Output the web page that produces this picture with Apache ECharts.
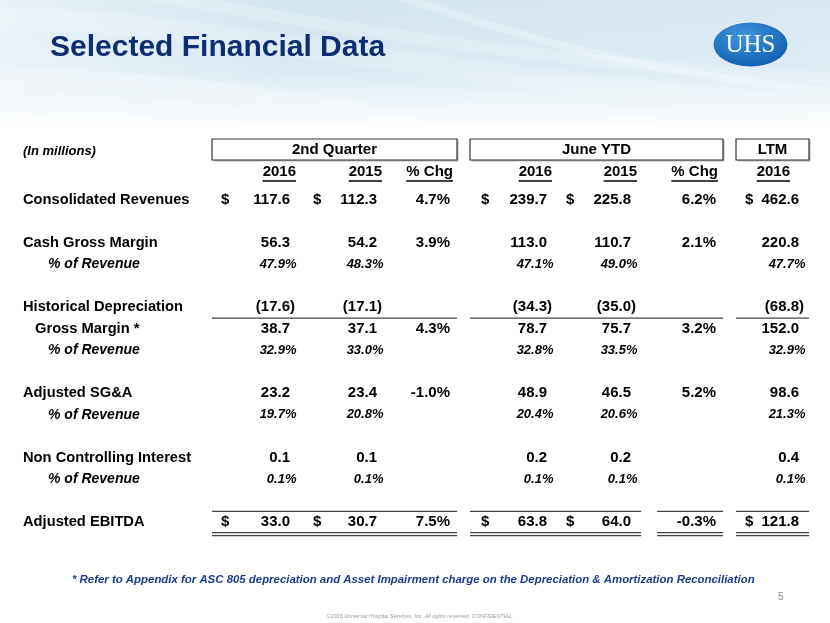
<!DOCTYPE html>
<html><head><meta charset="utf-8">
<script src="https://cdn.jsdelivr.net/npm/echarts@6/dist/echarts.min.js"></script>
<style>html,body{margin:0;padding:0;background:#fff}#c{width:830px;height:623px}</style>
</head><body><div id="c"></div>
<script>
// ---------- DATA ----------
const titleText = "Selected Financial Data";
const unitNote = "(In millions)";
const rowLabels = ["Consolidated Revenues","","Cash Gross Margin","% of Revenue","","Historical Depreciation","Gross Margin *","% of Revenue","","Adjusted SG&A","% of Revenue","","Non Controlling Interest","% of Revenue","","Adjusted EBITDA"];
const groupHeaders = ["2nd Quarter","June YTD","LTM"];
const columnHeaders = ["2016","2015","% Chg","2016","2015","% Chg","2016"];
const q2_2016  = [117.6,null,56.3,47.9,null,-17.6,38.7,32.9,null,23.2,19.7,null,0.1,0.1,null,33.0];
const q2_2015  = [112.3,null,54.2,48.3,null,-17.1,37.1,33.0,null,23.4,20.8,null,0.1,0.1,null,30.7];
const q2_chg   = [4.7,null,3.9,null,null,null,4.3,null,null,-1.0,null,null,null,null,null,7.5];
const ytd_2016 = [239.7,null,113.0,47.1,null,-34.3,78.7,32.8,null,48.9,20.4,null,0.2,0.1,null,63.8];
const ytd_2015 = [225.8,null,110.7,49.0,null,-35.0,75.7,33.5,null,46.5,20.6,null,0.2,0.1,null,64.0];
const ytd_chg  = [6.2,null,2.1,null,null,null,3.2,null,null,5.2,null,null,null,null,null,-0.3];
const ltm_2016 = [462.6,null,220.8,47.7,null,-68.8,152.0,32.9,null,98.6,21.3,null,0.4,0.1,null,121.8];
const dollarRows = ["Consolidated Revenues","Adjusted EBITDA"];
const footnote = "* Refer to Appendix for ASC 805 depreciation and Asset Impairment charge on the Depreciation & Amortization Reconciliation";
const copyright = "\u00a92016 Universal Hospital Services, Inc. All rights reserved. CONFIDENTIAL.";
const pageNumber = "5";
const logoText = "UHS";

// ---------- LAYOUT / STYLE ----------
const columns = [q2_2016,q2_2015,q2_chg,ytd_2016,ytd_2015,ytd_chg,ltm_2016];
const chgCols = [2,5];
const colRight = [290,377,450,547,631,716,799];
const colHeadRight = [296,382,453,552,637,718,790];
const dollarLeft = [221,313,null,481,566,null,745];
const groupBox = [[212,457],[470,723],[736,809]];
const FF = "'Liberation Sans', Arial, sans-serif";
const ROW0 = 200, BAND = 21.47;
const rowY = r => ROW0 + BAND * r;
const NAVY = '#0f2d72';

const mc = document.createElement('canvas').getContext('2d');
function textW(t, font){ mc.font = font; return mc.measureText(t).width; }

function rowType(r){
  const l = rowLabels[r];
  if (l === "% of Revenue") return 'pct';
  if (l === "Gross Margin *") return 'sub';
  return 'main';
}

const cellData = [];
columns.forEach((arr,c)=>arr.forEach((v,r)=>{ if(v!==null) cellData.push([c,r,v]); }));
const labelData = rowLabels.map((l,r)=>[r]).filter(d=>rowLabels[d[0]]!=="");
const dollarData = [];
rowLabels.forEach((l,r)=>{ if(dollarRows.includes(l)) dollarLeft.forEach((x,c)=>{ if(x!==null) dollarData.push([c,r]); }); });

function renderCell(params, api){
  const c = api.value(0), r = api.value(1), v = api.value(2);
  const t = rowType(r);
  let text, dx = 0, style = 'normal', size = 15, weight = 'bold';
  if (t === 'pct'){ text = v.toFixed(1)+'%'; dx = 6.5; style='italic'; size = 13; }
  else if (chgCols.includes(c)){ text = v.toFixed(1)+'%'; }
  else { text = v<0 ? '('+Math.abs(v).toFixed(1)+')' : v.toFixed(1); dx = v<0 ? 5 : 0; }
  const p = api.coord([colRight[c], r]);
  return {type:'text', style:{x:p[0]+dx, y:p[1], text, fontFamily:FF, fontSize:size, fontWeight:weight, fontStyle:style, fill:'#000', align:'right', verticalAlign:'middle'}};
}
function renderLabel(params, api){
  const r = api.value(0);
  const t = rowType(r);
  const x = t==='pct' ? 48 : (t==='sub' ? 35 : 23);
  const p = api.coord([x, r]);
  return {type:'text', style:{x:p[0], y:p[1], text:rowLabels[r], fontFamily:FF, fontSize:t==='pct'?14:14.7, fontWeight:'bold', fontStyle:t==='pct'?'italic':'normal', fill:'#000', align:'left', verticalAlign:'middle'}};
}
function renderDollar(params, api){
  const c = api.value(0), r = api.value(1);
  const p = api.coord([dollarLeft[c], r]);
  return {type:'text', style:{x:p[0], y:p[1], text:'$', fontFamily:FF, fontSize:15, fontWeight:'bold', fill:'#000', align:'left', verticalAlign:'middle'}};
}

const graphics = [];
// background
graphics.push({type:'rect', z:-10, shape:{x:0,y:0,width:830,height:623}, style:{fill:'#ffffff'}});
graphics.push({type:'rect', z:-9, shape:{x:0,y:0,width:830,height:130}, style:{fill:new echarts.graphic.LinearGradient(0,0,0,1,[{offset:0,color:'#d3e5f0'},{offset:0.55,color:'#d9e9f3'},{offset:1,color:'#ffffff'}])}});
graphics.push({type:'rect', z:-8, shape:{x:0,y:0,width:830,height:130}, style:{fill:new echarts.graphic.LinearGradient(0,0,1,0,[{offset:0,color:'rgba(255,255,255,0.45)'},{offset:0.35,color:'rgba(255,255,255,0)'},{offset:1,color:'rgba(255,255,255,0.12)'}])}});
[[-20,20,150,10,350,70,860,110,22,0.18],[120,-10,300,20,560,70,880,80,12,0.2],[380,-10,500,30,650,80,880,95,8,0.25],[-20,80,120,70,260,95,420,120,16,0.25]].forEach(s=>{
  graphics.push({type:'bezierCurve', z:-7, shape:{x1:s[0],y1:s[1],cpx1:s[2],cpy1:s[3],cpx2:s[4],cpy2:s[5],x2:s[6],y2:s[7]}, style:{fill:'none', stroke:'rgba(255,255,255,'+s[9]+')', lineWidth:s[8]}});
});
// title
graphics.push({type:'text', z:5, style:{x:50, y:48, text:titleText, fontFamily:FF, fontSize:30, fontWeight:'bold', fill:NAVY, verticalAlign:'middle'}});
// logo
graphics.push({type:'circle', z:5, x:750.5, y:44.5, scaleY:23.5/38.5, shape:{cx:0,cy:0,r:38.5}, style:{fill:'#e3ecf4'}});
graphics.push({type:'circle', z:6, x:750.5, y:44.5, scaleY:22/37, shape:{cx:0,cy:0,r:37}, style:{fill:new echarts.graphic.RadialGradient(0.4,0.3,0.8,[{offset:0,color:'#3f95de'},{offset:1,color:'#0d5aae'}])}});
graphics.push({type:'text', z:7, style:{x:750.5, y:45.5, text:logoText, fontFamily:"'Liberation Serif', 'DejaVu Serif', serif", fontSize:25, fill:'#ffffff', align:'center', verticalAlign:'middle'}});
// unit note
graphics.push({type:'text', z:5, style:{x:23, y:151, text:unitNote, fontFamily:FF, fontSize:13, fontWeight:'bold', fontStyle:'italic', fill:'#000', verticalAlign:'middle'}});
// group header boxes
groupBox.forEach((b,i)=>{
  graphics.push({type:'rect', z:4, shape:{x:b[0]+1.5,y:140.5,width:b[1]-b[0],height:21}, style:{fill:'#b5b5b5'}});
  graphics.push({type:'rect', z:5, shape:{x:b[0],y:139,width:b[1]-b[0],height:21}, style:{fill:'#ffffff', stroke:'#333', lineWidth:1.2}});
  graphics.push({type:'text', z:6, style:{x:(b[0]+b[1])/2, y:150, text:groupHeaders[i], fontFamily:FF, fontSize:15, fontWeight:'bold', fill:'#000', align:'center', verticalAlign:'middle'}});
});
// column headers with underline
columnHeaders.forEach((h,c)=>{
  const f = 'bold 15px '+FF;
  const w = textW(h,f);
  graphics.push({type:'text', z:5, style:{x:colHeadRight[c], y:172, text:h, fontFamily:FF, fontSize:15, fontWeight:'bold', fill:'#000', align:'right', verticalAlign:'middle'}});
  graphics.push({type:'line', z:5, shape:{x1:colHeadRight[c]-w, y1:181, x2:colHeadRight[c], y2:181}, style:{stroke:'#000', lineWidth:1.5}});
});
// rules
function hline(x1,x2,y,w){ graphics.push({type:'line', z:5, shape:{x1,y1:y,x2,y2:y}, style:{stroke:'#444', lineWidth:w||1.3}}); }
const subRuleRow = rowLabels.indexOf("Historical Depreciation") + 0.5;
groupBox.forEach(b=>hline(b[0], b[1], rowY(subRuleRow)));
const totalRow = rowLabels.indexOf("Adjusted EBITDA");
const totalSegs = [[212,457],[470,641],[657,723],[736,809]];
totalSegs.forEach(s=>{ hline(s[0],s[1],rowY(totalRow-0.5)); hline(s[0],s[1],rowY(totalRow)+10.5,1.2); hline(s[0],s[1],rowY(totalRow)+13.5,1.2); });
// footnote
const fnBase = 11;
const fnW = textW(footnote, 'italic bold '+fnBase+'px '+FF);
const fnSize = fnBase * 683 / fnW;
graphics.push({type:'text', z:5, style:{x:72, y:580, text:footnote, fontFamily:FF, fontSize:fnSize, fontWeight:'bold', fontStyle:'italic', fill:'#1b3a8c', verticalAlign:'middle'}});
graphics.push({type:'text', z:5, style:{x:778, y:597, text:pageNumber, fontFamily:FF, fontSize:10, fill:'#8a8a8a', verticalAlign:'middle'}});
graphics.push({type:'text', z:5, style:{x:420, y:616, text:copyright, fontFamily:FF, fontSize:5.5, fontStyle:'italic', fill:'#9a9a9a', align:'center', verticalAlign:'middle'}});

const chart = echarts.init(document.getElementById('c'), null, {renderer:'canvas'});
chart.setOption({
  animation:false,
  backgroundColor:'#ffffff',
  grid:{left:0, right:0, top:ROW0-BAND/2, height:BAND*rowLabels.length},
  xAxis:{type:'value', min:0, max:830, show:false},
  yAxis:{type:'value', min:-0.5, max:rowLabels.length-0.5, inverse:true, show:false},
  graphic:graphics,
  series:[
    {type:'custom', renderItem:renderLabel, data:labelData, z:10, silent:true},
    {type:'custom', renderItem:renderDollar, data:dollarData, z:10, silent:true},
    {type:'custom', renderItem:renderCell, data:cellData, z:10, silent:true}
  ]
});
</script></body></html>
